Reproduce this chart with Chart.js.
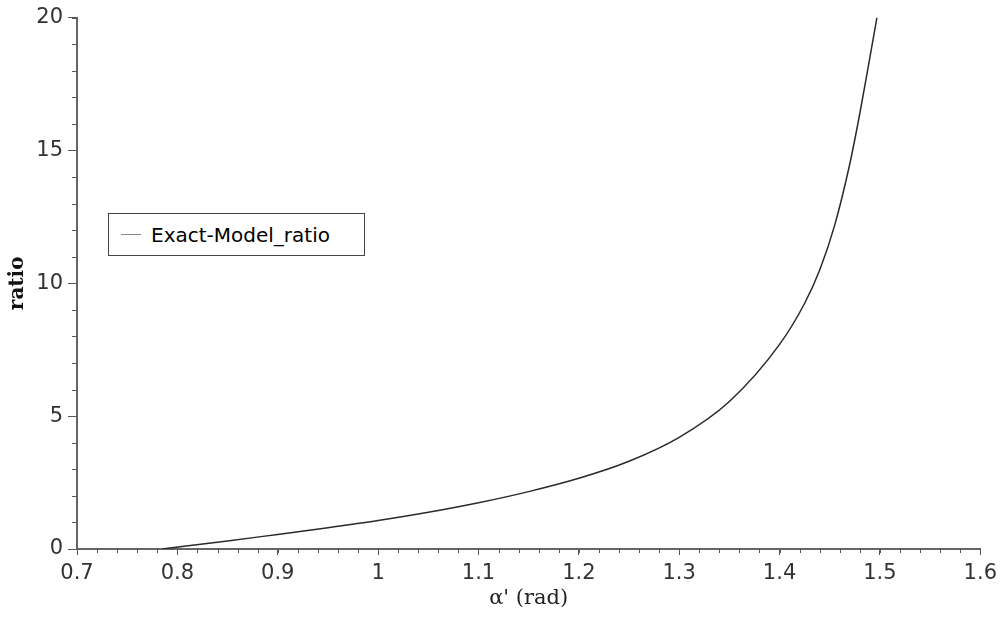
<!DOCTYPE html>
<html>
<head>
<meta charset="utf-8">
<script src="https://cdn.jsdelivr.net/npm/chart.js@4"></script>
<style>
    html, body { margin: 0; padding: 0; background: #fff; }
    #wrap { position: relative; width: 1003px; height: 619px; }
    #legend {
        position: absolute; left: 108px; top: 213px; width: 257px; height: 43px;
        border: 1px solid #444; background: #fff; box-sizing: border-box;
        font-family: "DejaVu Sans", sans-serif; font-size: 20px; color: #000;
        display: flex; align-items: center;
    }
    #legend .swatch { display: inline-block; width: 20px; height: 0; border-top: 1.5px solid #888; margin: 0 10px 0 12px; }
</style>
</head>
<body>
<div id="wrap">
    <canvas id="ratioChart" width="1003" height="619"></canvas>
    <div id="legend"></div>
</div>
<script>
// values
const alphaVals = [0.785, 0.85, 0.9, 0.95, 1.0, 1.05, 1.1, 1.15, 1.2, 1.25, 1.3, 1.35, 1.4, 1.425, 1.44, 1.455, 1.47, 1.48, 1.49, 1.497];
const ratioVals = [0, 0.30, 0.55, 0.80, 1.07, 1.38, 1.74, 2.16, 2.66, 3.30, 4.20, 5.55, 7.70, 9.25, 10.5, 12.2, 14.5, 16.4, 18.5, 20];
const xTicks = [0.7, 0.8, 0.9, 1, 1.1, 1.2, 1.3, 1.4, 1.5, 1.6];
const yTicks = [0, 5, 10, 15, 20];
const seriesName = 'Exact-Model_ratio';

const points = alphaVals.map((a, i) => ({x: a, y: ratioVals[i]}));

// short minor ticks between the labelled ones
const minorTicks = {
    id: 'minorTicks',
    afterDraw(chart) {
        const ctx = chart.ctx;
        const xs = chart.scales.x, ys = chart.scales.y;
        ctx.save();
        ctx.strokeStyle = '#555';
        ctx.lineWidth = 1;
        ctx.beginPath();
        for (let v = xs.min; v <= xs.max + 1e-9; v += 0.02) {
            const px = Math.round(xs.getPixelForValue(v)) + 0.5;
            ctx.moveTo(px, ys.bottom);
            ctx.lineTo(px, ys.bottom + 4);
        }
        for (let v = ys.min; v <= ys.max + 1e-9; v += 1) {
            const py = Math.round(ys.getPixelForValue(v)) + 0.5;
            ctx.moveTo(xs.left, py);
            ctx.lineTo(xs.left - 5, py);
        }
        ctx.stroke();
        ctx.restore();
    }
};

var ctx = document.getElementById('ratioChart').getContext('2d');
var chart = new Chart(ctx, {
    type: 'line',
    data: {
        datasets: [{
            label: seriesName,
            data: points,
            borderColor: '#2a2a2a',
            borderWidth: 1.5,
            pointRadius: 0,
            cubicInterpolationMode: 'monotone',
            fill: false
        }]
    },
    options: {
        responsive: false,
        animation: false,
        layout: { padding: { left: 0, right: 21, top: 12, bottom: 0 } },
        plugins: { legend: { display: false }, tooltip: { enabled: false } },
        scales: {
            x: {
                type: 'linear',
                min: 0.7,
                max: 1.6,
                afterBuildTicks: function(scale) {
                    scale.ticks = xTicks.map(v => ({value: v}));
                },
                afterFit: function(scale) { scale.height = 70; },
                border: { color: '#666', width: 2 },
                grid: { drawOnChartArea: false, tickLength: 6, color: '#555' },
                ticks: {
                    color: '#333',
                    padding: 6,
                    maxRotation: 0,
                    font: { family: 'DejaVu Sans', size: 21 },
                    callback: function(value) { return String(Math.round(value * 10) / 10); }
                },
                title: {
                    display: true,
                    text: "α' (rad)",
                    color: '#222',
                    padding: { top: 0, bottom: 8 },
                    font: { family: 'DejaVu Serif', size: 21 }
                }
            },
            y: {
                min: 0,
                max: 20,
                afterBuildTicks: function(scale) {
                    scale.ticks = yTicks.map(v => ({value: v}));
                },
                afterFit: function(scale) { scale.width = 77; },
                border: { color: '#666', width: 2 },
                grid: { drawOnChartArea: false, tickLength: 9, color: '#555' },
                ticks: {
                    color: '#333',
                    padding: 5,
                    font: { family: 'DejaVu Sans', size: 21 }
                },
                title: {
                    display: true,
                    text: 'ratio',
                    color: '#111',
                    padding: { top: 6, bottom: 0 },
                    font: { family: 'DejaVu Serif', size: 20, weight: 'bold' }
                }
            }
        }
    },
    plugins: [minorTicks]
});

// legend box from the dataset labels
document.getElementById('legend').innerHTML = chart.data.datasets.map(
    d => '<span class="swatch"></span><span>' + d.label + '</span>'
).join('');
</script>
</body>
</html>
